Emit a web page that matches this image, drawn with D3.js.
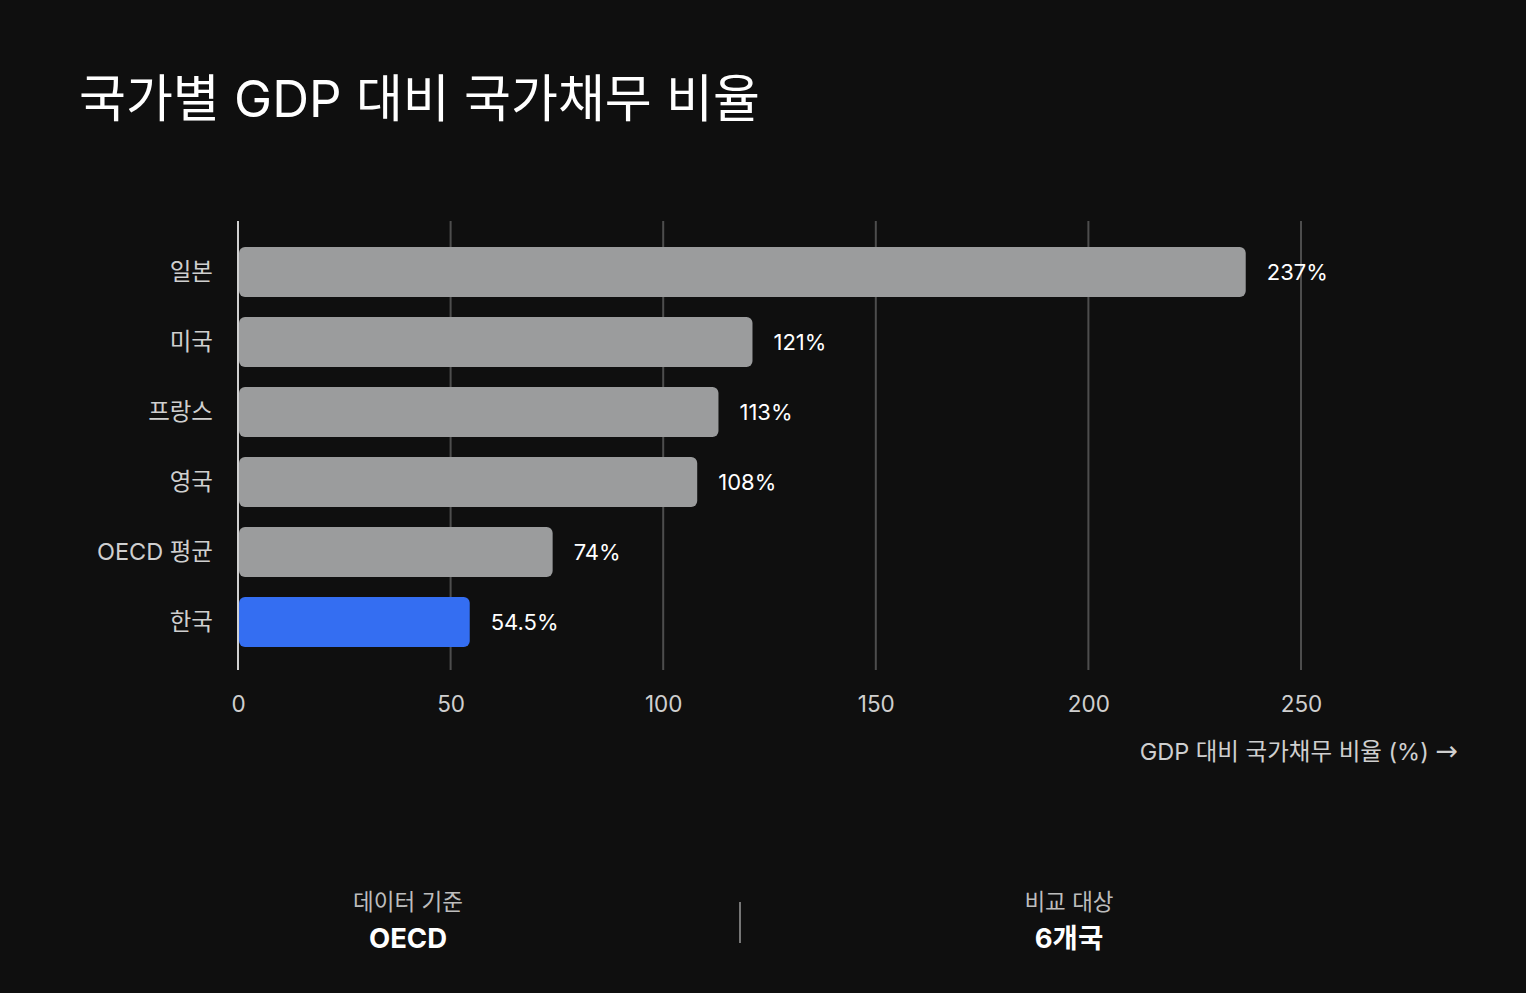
<!DOCTYPE html>
<html><head><meta charset="utf-8">
<script src="https://cdn.jsdelivr.net/npm/d3@7"></script>
<style>
html,body{margin:0;padding:0;background:#0f0f0f;}
svg{display:block;font-family:Inter,"Noto Sans CJK KR","Noto Sans",sans-serif;}
</style></head>
<body>
<svg id="c" width="1526" height="993"></svg>
<script>
const categories = ["일본","미국","프랑스","영국","OECD 평균","한국"];
const values = [237, 121, 113, 108, 74, 54.5];
const valueLabels = ["237%","121%","113%","108%","74%","54.5%"];
const highlight = ["한국"];
const xTicks = [0,50,100,150,200,250];
const title = "국가별 GDP 대비 국가채무 비율";
const xTitle = "GDP 대비 국가채무 비율 (%)";
const xArrow = "→";
const footerLabels = ["데이터 기준","비교 대상"];
const footerValues = ["OECD","6개국"];

const FONT = 'Inter,"Noto Sans CJK KR","Noto Sans",sans-serif';
const svg = d3.select("#c");
svg.append("rect").attr("width",1526).attr("height",993).attr("fill","#0f0f0f");

svg.append("text").attr("x",79).attr("y",117).attr("fill","#ffffff")
  .attr("font-size",51).attr("font-weight",400).text(title);

const x = d3.scaleLinear().domain([0,280]).range([238, 238+280*(1301-238)/250]);
const y = d3.scaleBand().domain(categories).range([237,657]).paddingInner(20/70).paddingOuter(10/70);
const gTop = 221, gBot = 670;

// gridlines
svg.append("g").selectAll("line").data(xTicks.filter(d=>d>0)).join("line")
  .attr("x1",d=>x(d)).attr("x2",d=>x(d)).attr("y1",gTop).attr("y2",gBot)
  .attr("stroke","#4d4d4d").attr("stroke-width",2);

// bars
svg.append("g").selectAll("rect").data(categories).join("rect")
  .attr("x",x(0)+1).attr("y",d=>y(d))
  .attr("width",(d,i)=>x(values[i])-x(0)-1).attr("height",y.bandwidth())
  .attr("rx",6).attr("ry",6)
  .attr("fill",d=>highlight.includes(d)?"#346ef2":"#9b9c9d");

// axis line
svg.append("line").attr("x1",x(0)).attr("x2",x(0)).attr("y1",gTop).attr("y2",gBot)
  .attr("stroke","#d0d0d0").attr("stroke-width",2);

// value labels
svg.append("g").selectAll("text").data(categories).join("text")
  .attr("x",(d,i)=>x(values[i])+21).attr("y",d=>y(d)+y.bandwidth()/2)
  .attr("dy","0.35em").attr("fill","#ffffff").attr("font-size",22)
  .text((d,i)=>valueLabels[i]);

// category labels
svg.append("g").selectAll("text").data(categories).join("text")
  .attr("x",213).attr("y",d=>y(d)+y.bandwidth()/2)
  .attr("dy","0.35em").attr("text-anchor","end").attr("fill","#cfcfcf").attr("font-size",23.5)
  .text(d=>d);

// x axis tick labels
const xAxis = d3.axisBottom(x).tickValues(xTicks).tickSize(0).tickPadding(0);
const ax = svg.append("g").attr("transform",`translate(0,${gBot})`).call(xAxis);
ax.select(".domain").remove();
ax.selectAll("text").attr("y",34).attr("dy","0.35em").attr("fill","#cfcfcf")
  .attr("font-size",22.5).attr("font-family",FONT);

const xt = svg.append("text").attr("x",1458).attr("y",752).attr("dy","0.35em").attr("text-anchor","end")
  .attr("fill","#cfcfcf").attr("font-size",23.5);
xt.append("tspan").text(xTitle + " ");
xt.append("tspan").attr("font-family","DejaVu Sans").attr("font-size",27).text(xArrow);

// footer
const fx = [408,1069];
svg.append("g").selectAll("text").data(footerLabels).join("text")
  .attr("x",(d,i)=>fx[i]).attr("y",902).attr("dy","0.35em").attr("text-anchor","middle")
  .attr("fill","#bdbdbd").attr("font-size",22.5).text(d=>d);
svg.append("g").selectAll("text").data(footerValues).join("text")
  .attr("x",(d,i)=>fx[i]).attr("y",938).attr("dy","0.35em").attr("text-anchor","middle")
  .attr("fill","#ffffff").attr("font-size",27.5).attr("font-weight",700).text(d=>d);
svg.append("line").attr("x1",740).attr("x2",740).attr("y1",902).attr("y2",943)
  .attr("stroke","#9a9a9a").attr("stroke-width",1.5);
</script>
</body></html>
